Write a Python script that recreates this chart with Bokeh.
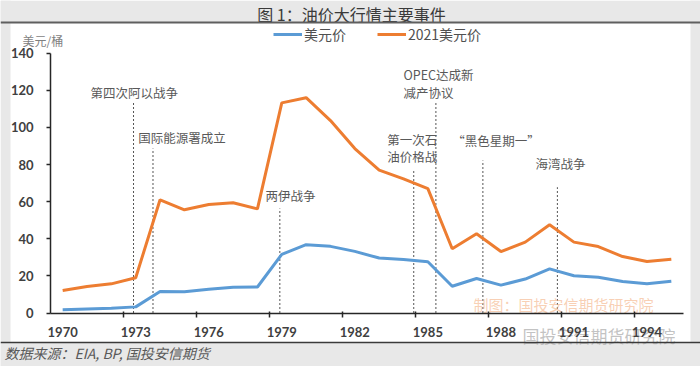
from bokeh.plotting import figure
from bokeh.models import (Range1d, LinearAxis, FixedTicker, Legend, LegendItem,
                          BoxAnnotation, Span, ColumnDataSource)
from bokeh.core.properties import value
from bokeh.embed import file_html
from bokeh.resources import INLINE

# ---------------- data ----------------
years = list(range(1970, 1996))
usd_nominal = [1.8, 2.2, 2.5, 3.3, 11.6, 11.5, 12.8, 13.9, 14.0, 31.6, 36.8, 35.9, 33.2,
               29.6, 28.8, 27.6, 14.4, 18.6, 15.0, 18.3, 23.8, 20.1, 19.3, 17.0, 15.8, 17.1]
usd_2021 = [12.1, 14.3, 15.7, 19.0, 61.0, 55.6, 58.5, 59.4, 56.1, 113.2, 116.0, 103.7, 88.6,
            77.0, 72.3, 67.0, 34.6, 42.7, 33.1, 38.2, 47.5, 38.2, 35.8, 30.4, 27.7, 29.0]
series_names = ["美元价", "2021美元价"]
x_tick_labels = [1970, 1973, 1976, 1979, 1982, 1985, 1988, 1991, 1994]
x_tick_marks = [1972.5, 1975.5, 1978.5, 1981.5, 1984.5, 1987.5, 1990.5, 1993.5]
y_ticks = [0, 20, 40, 60, 80, 100, 120, 140]
event_years = [1972.91, 1973.71, 1978.92, 1984.42, 1985.33, 1987.26, 1990.32]
event_labels = [["第四次阿以战争"], ["国际能源署成立"], ["两伊战争"],
                ["第一次石", "油价格战"], ["OPEC达成新", "减产协议"],
                ["“黑色星期一”"], ["海湾战争"]]
title_text = "图 1：油价大行情主要事件"
unit_text = "美元/桶"
source_text = "数据来源：EIA, BP, 国投安信期货"
watermark1 = "制图：国投安信期货研究院"
watermark2 = "国投安信期货研究院"

# ------------- layout helpers (reference pixel -> data) -------------
PX_PER_YEAR = 24.346
PX_PER_UNIT = 1.856
def xr(rx):
    return 1969.5 + (rx - 50) / PX_PER_YEAR
def yr(ry):
    return (312.5 - ry) / PX_PER_UNIT

W, H = 700, 366
BLUE = "#5b9bd5"
ORANGE = "#ed7d31"
CJK = "Noto Sans CJK SC"

p = figure(width=W, height=H, output_backend="svg", toolbar_location=None,
           x_range=Range1d(xr(0), xr(W)), y_range=Range1d(yr(H), yr(0)),
           x_axis_location=None, y_axis_location=None, min_border=0)
p.outline_line_color = None
p.xgrid.visible = False
p.ygrid.visible = False
p.background_fill_color = "white"
p.border_fill_color = "white"

# gray page bands
band = "#e8e8e8"
p.add_layout(BoxAnnotation(bottom=yr(22), fill_color=band, fill_alpha=1, line_color=None, level="underlay"))
p.add_layout(BoxAnnotation(top=yr(342), fill_color=band, fill_alpha=1, line_color=None, level="underlay"))
p.add_layout(BoxAnnotation(right=xr(10), fill_color=band, fill_alpha=1, line_color=None, level="underlay"))
p.add_layout(BoxAnnotation(left=xr(690), fill_color=band, fill_alpha=1, line_color=None, level="underlay"))
p.add_layout(Span(location=yr(22), dimension="width", line_color="#5f5f5f", line_width=2))
p.add_layout(Span(location=yr(342), dimension="width", line_color="#3a3a3a", line_width=1.5))

# axes
xaxis = LinearAxis(fixed_location=0, bounds=(1969.5, 1995.5),
                   ticker=FixedTicker(ticks=x_tick_labels, minor_ticks=x_tick_marks))
xaxis.axis_line_color = "#262626"
xaxis.axis_line_width = 1.5
xaxis.major_tick_line_color = None
xaxis.major_tick_out = 0
xaxis.major_tick_in = 0
xaxis.minor_tick_line_color = "#262626"
xaxis.minor_tick_line_width = 1.5
xaxis.minor_tick_out = 4
xaxis.minor_tick_in = 2
xaxis.major_label_standoff = 10
xaxis.major_label_text_font = "Lato"
xaxis.major_label_text_font_style = "bold"
xaxis.major_label_text_font_size = "13px"
xaxis.major_label_text_color = "#404040"
p.add_layout(xaxis, "below")

yaxis = LinearAxis(fixed_location=1969.5, bounds=(0, 140), ticker=FixedTicker(ticks=y_ticks))
yaxis.axis_line_color = "#262626"
yaxis.axis_line_width = 1.5
yaxis.major_tick_line_color = "#262626"
yaxis.major_tick_line_width = 1.5
yaxis.major_tick_out = 4
yaxis.major_tick_in = 0
yaxis.minor_tick_line_color = None
yaxis.major_label_standoff = 13
yaxis.major_label_text_font = "Lato"
yaxis.major_label_text_font_style = "bold"
yaxis.major_label_text_font_size = "13px"
yaxis.major_label_text_color = "#404040"
p.add_layout(yaxis, "left")

# event lines
event_tops = [yr(101.7), yr(148), yr(208), yr(170), yr(101.7), yr(160), yr(186.7)]
p.segment(x0=event_years, y0=[0] * len(event_years), x1=event_years, y1=event_tops,
          line_color="#555555", line_width=1, line_dash="2 2")

# event labels (layout positions)
label_pos = [(90, [91.7]), (137.7, [136.7]), (265, [195]), (386.7, [139.3, 156]),
             (403, [74, 91.7]), (451.7, [140]), (535, [163.3])]
tx, ty, tt = [], [], []
for (lx, lys), lines in zip(label_pos, event_labels):
    for ly, t in zip(lys, lines):
        tx.append(xr(lx)); ty.append(yr(ly)); tt.append(t)
p.text(x=tx, y=ty, text=tt, text_font=value(CJK), text_font_size="12.5px",
       text_color="#595959", text_align="left", text_baseline="middle")

# series
src = ColumnDataSource(dict(year=years, nominal=usd_nominal, real=usd_2021))
r_blue = p.line("year", "nominal", source=src, line_color=BLUE, line_width=3)
r_orange = p.line("year", "real", source=src, line_color=ORANGE, line_width=3)

# watermark (chart)
p.text(x=[xr(473)], y=[yr(304)], text=[watermark1], text_font=value(CJK),
       text_font_size="15px", text_color="#f4b183", text_alpha=0.6,
       text_align="left", text_baseline="middle")

# legend
for r, name, lx in [(r_blue, series_names[0], 273), (r_orange, series_names[1], 377)]:
    lg = Legend(items=[LegendItem(label=name, renderers=[r])], location=(lx, H - 44),
                orientation="horizontal", padding=0, margin=0, spacing=0,
                glyph_width=29, glyph_height=16, label_height=16, label_standoff=2,
                background_fill_alpha=0, border_line_color=None,
                label_text_font=CJK, label_text_font_size="14px",
                label_text_color="#505050")
    p.add_layout(lg)

# texts: title, unit, source, wechat watermark
p.text(x=[xr(351)], y=[yr(13)], text=[title_text], text_font=value(CJK),
       text_font_size="16px", text_color="#3a3a3a", text_align="center", text_baseline="middle")
p.text(x=[xr(22)], y=[yr(40)], text=[unit_text], text_font=value(CJK),
       text_font_size="12px", text_color="#7f7f7f", text_align="left", text_baseline="middle")
p.text(x=[xr(4)], y=[yr(352)], text=[source_text], text_font=value(CJK),
       text_font_size="14px", text_font_style="italic", text_color="#595959",
       text_align="left", text_baseline="middle")
p.text(x=[xr(522)], y=[yr(335)], text=[watermark2], text_font=value(CJK),
       text_font_size="17px", text_color="#b8b8b8", text_alpha=0.85,
       text_align="left", text_baseline="middle")

open("out.html", "w").write(file_html(p, INLINE))
